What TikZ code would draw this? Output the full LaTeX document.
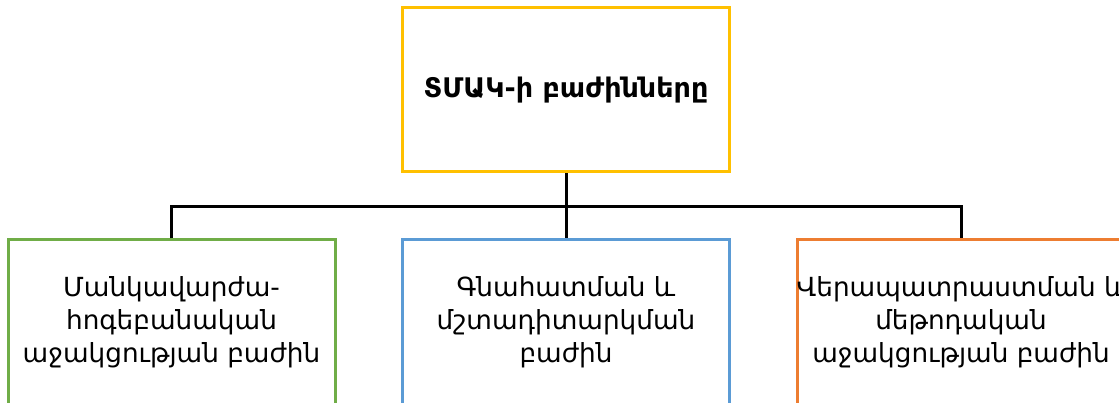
\documentclass[tikz,border=0pt]{standalone}
\usepackage{fontspec}
\setmainfont{DejaVu Sans}
\definecolor{cyellow}{HTML}{FFC000}
\definecolor{cgreen}{HTML}{70AD47}
\definecolor{cblue}{HTML}{5B9BD5}
\definecolor{corange}{HTML}{ED7D31}
\tikzset{
  boxframe/.style={draw, line width=3pt, minimum width=327pt, minimum height=164pt, inner sep=0pt, fill=white},
  boxtext/.style={align=center, inner sep=0pt, font=\fontsize{26.3}{33}\selectfont},
  toptext/.style={align=center, inner sep=0pt, font=\fontsize{27}{33}\selectfont\bfseries},
  conn/.style={draw=black, line width=3pt}
}
\begin{document}
\begin{tikzpicture}[x=1pt,y=-1pt]
\useasboundingbox (0,0) rectangle (1119,403);
\clip (0,0) rectangle (1119,403);
\fill[white] (0,0) rectangle (1119,403);
\node[boxframe, draw=cyellow] (top) at (566,90) {};
\node[boxframe, draw=cgreen] (b1) at (171.5,322) {};
\node[boxframe, draw=cblue] (b2) at (566,322) {};
\node[boxframe, draw=corange] (b3) at (961,322) {};
\coordinate (j) at (566,207);
\draw[conn] (top.south) -- (j);
\draw[conn] (b1.north) |- (j) -| (b3.north);
\draw[conn] (j) -- (b2.north);
\node[toptext] (t0) at (top.center) {ՏՄԱԿ-ի բաժինները};
\node[boxtext] (t1) at (b1.center) {Մանկավարժա-\\հոգեբանական\\աջակցության բաժին};
\node[boxtext] (t2) at (b2.center) {Գնահատման և\\մշտադիտարկման\\բաժին};
\node[boxtext] (t3) at (b3.center) {Վերապատրաստման և\\մեթոդական\\աջակցության բաժին};
\end{tikzpicture}
\end{document}
